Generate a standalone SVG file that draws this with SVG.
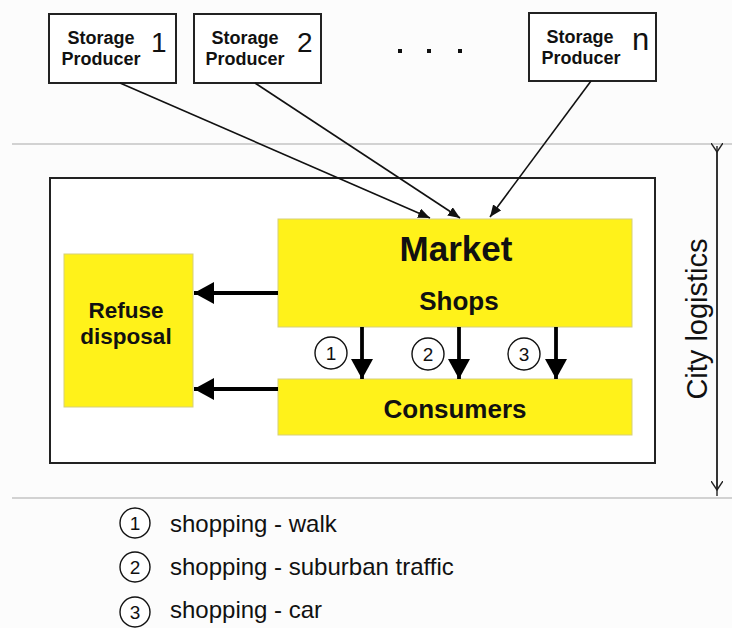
<svg xmlns="http://www.w3.org/2000/svg" width="732" height="628" viewBox="0 0 732 628">
  <style>
    text { font-family: "Liberation Sans", Arial, sans-serif; fill: #111; }
    .prod { fill: #fff; stroke: #222; stroke-width: 2; }
    .plabel { font-size: 18px; font-weight: bold; text-anchor: middle; }
    .pnum { font-size: 28px; }
    .yellow { fill: #fff21a; stroke: #d6cf7a; stroke-width: 1; }
    .big { font-weight: bold; text-anchor: middle; }
    .feed { stroke: #111; stroke-width: 1.6; fill: none; marker-end: url(#small); }
    .flow { stroke: #000; stroke-width: 3.8; fill: none; marker-end: url(#big); }
    .circ { fill: #fff; stroke: #111; stroke-width: 1.4; }
    .cnum { font-size: 19px; text-anchor: middle; }
    .legend { font-size: 24px; }
    .rule { stroke: #a8a8a8; stroke-width: 1; }
  </style>
  <defs>
    <marker id="small" viewBox="0 0 12 10" refX="12" refY="5" markerWidth="12" markerHeight="10" markerUnits="userSpaceOnUse" orient="auto">
      <path d="M0,0 L12,5 L0,10 Z" fill="#111"/>
    </marker>
    <marker id="big" viewBox="0 0 20 22" refX="20" refY="11" markerWidth="20" markerHeight="22" markerUnits="userSpaceOnUse" orient="auto">
      <path d="M0,0 L20,11 L0,22 Z" fill="#000"/>
    </marker>
    <marker id="chev" viewBox="0 0 10 12" refX="9" refY="6" markerWidth="10" markerHeight="12" markerUnits="userSpaceOnUse" orient="auto">
      <path d="M0,0 L9,6 L0,12" fill="none" stroke="#222" stroke-width="1.4"/>
    </marker>
  </defs>

  <rect x="0" y="0" width="732" height="628" fill="#fcfcfc"/>

  <!-- zone boundaries -->
  <line class="rule" x1="12" y1="144" x2="732" y2="144"/>
  <line class="rule" x1="12" y1="498" x2="732" y2="498"/>

  <!-- city logistics span -->
  <g id="city-logistics">
    <line x1="717" y1="152" x2="717" y2="490" stroke="#222" stroke-width="1.4" marker-start="url(#chev)" marker-end="url(#chev)"/>
    <line x1="717" y1="146" x2="717" y2="496" stroke="#222" stroke-width="1.4"/>
    <text x="697" y="319" font-size="29" text-anchor="middle" transform="rotate(-90 697 319)" dy="10">City logistics</text>
  </g>

  <!-- producers -->
  <g id="producer-1">
    <rect class="prod" x="49" y="14" width="127" height="69"/>
    <text class="plabel" x="101" y="44">Storage</text>
    <text class="plabel" x="101" y="65">Producer</text>
    <text class="pnum" x="151" y="52">1</text>
  </g>
  <g id="producer-2">
    <rect class="prod" x="194" y="14" width="127" height="69"/>
    <text class="plabel" x="245" y="44">Storage</text>
    <text class="plabel" x="245" y="65">Producer</text>
    <text class="pnum" x="297" y="52">2</text>
  </g>
  <g id="ellipsis">
    <rect x="398" y="49" width="4" height="4" fill="#111"/>
    <rect x="427" y="49" width="4" height="4" fill="#111"/>
    <rect x="458" y="49" width="4" height="4" fill="#111"/>
  </g>
  <g id="producer-n">
    <rect class="prod" x="529" y="13" width="127" height="68"/>
    <text class="plabel" x="580" y="43">Storage</text>
    <text class="plabel" x="581" y="64">Producer</text>
    <text x="632" y="50" font-size="31">n</text>
  </g>

  <!-- city area -->
  <g id="city">
    <rect x="50" y="178" width="605" height="285" fill="#fff" stroke="#222" stroke-width="2"/>
  </g>

  <g id="market">
    <rect class="yellow" x="278" y="219" width="354" height="108"/>
    <text class="big" x="456" y="261" font-size="35">Market</text>
    <text class="big" x="459" y="310" font-size="26">Shops</text>
  </g>

  <g id="consumers">
    <rect class="yellow" x="278" y="379" width="354" height="56"/>
    <text class="big" x="455" y="418" font-size="26">Consumers</text>
  </g>

  <g id="refuse">
    <rect class="yellow" x="64" y="254" width="129" height="153"/>
    <text class="big" x="126" y="318" font-size="22.5">Refuse</text>
    <text class="big" x="126" y="344" font-size="22.5">disposal</text>
  </g>

  <!-- connectors -->
  <g id="connectors">
    <line class="feed" x1="120" y1="83" x2="430" y2="218"/>
    <line class="feed" x1="255" y1="83" x2="460" y2="218"/>
    <line class="feed" x1="591" y1="81" x2="490" y2="217"/>

    <line class="flow" x1="278" y1="293" x2="194" y2="293"/>
    <line class="flow" x1="278" y1="389" x2="194" y2="389"/>

    <line class="flow" x1="362" y1="327" x2="362" y2="379"/>
    <line class="flow" x1="459" y1="327" x2="459" y2="379"/>
    <line class="flow" x1="556" y1="327" x2="556" y2="379"/>
  </g>

  <g id="mode-marks">
    <circle class="circ" cx="331" cy="353" r="16"/>
    <text class="cnum" x="331" y="360">1</text>
    <circle class="circ" cx="428" cy="354" r="16"/>
    <text class="cnum" x="428" y="361">2</text>
    <circle class="circ" cx="524" cy="354" r="16"/>
    <text class="cnum" x="524" y="361">3</text>
  </g>

  <!-- legend -->
  <g id="legend">
    <circle class="circ" cx="135" cy="523" r="15"/>
    <text class="cnum" x="135" y="530">1</text>
    <text class="legend" x="170" y="532">shopping - walk</text>
    <circle class="circ" cx="135" cy="567" r="15"/>
    <text class="cnum" x="135" y="574">2</text>
    <text class="legend" x="170" y="575">shopping - suburban traffic</text>
    <circle class="circ" cx="135" cy="612" r="15"/>
    <text class="cnum" x="135" y="619">3</text>
    <text class="legend" x="170" y="618">shopping - car</text>
  </g>
</svg>
